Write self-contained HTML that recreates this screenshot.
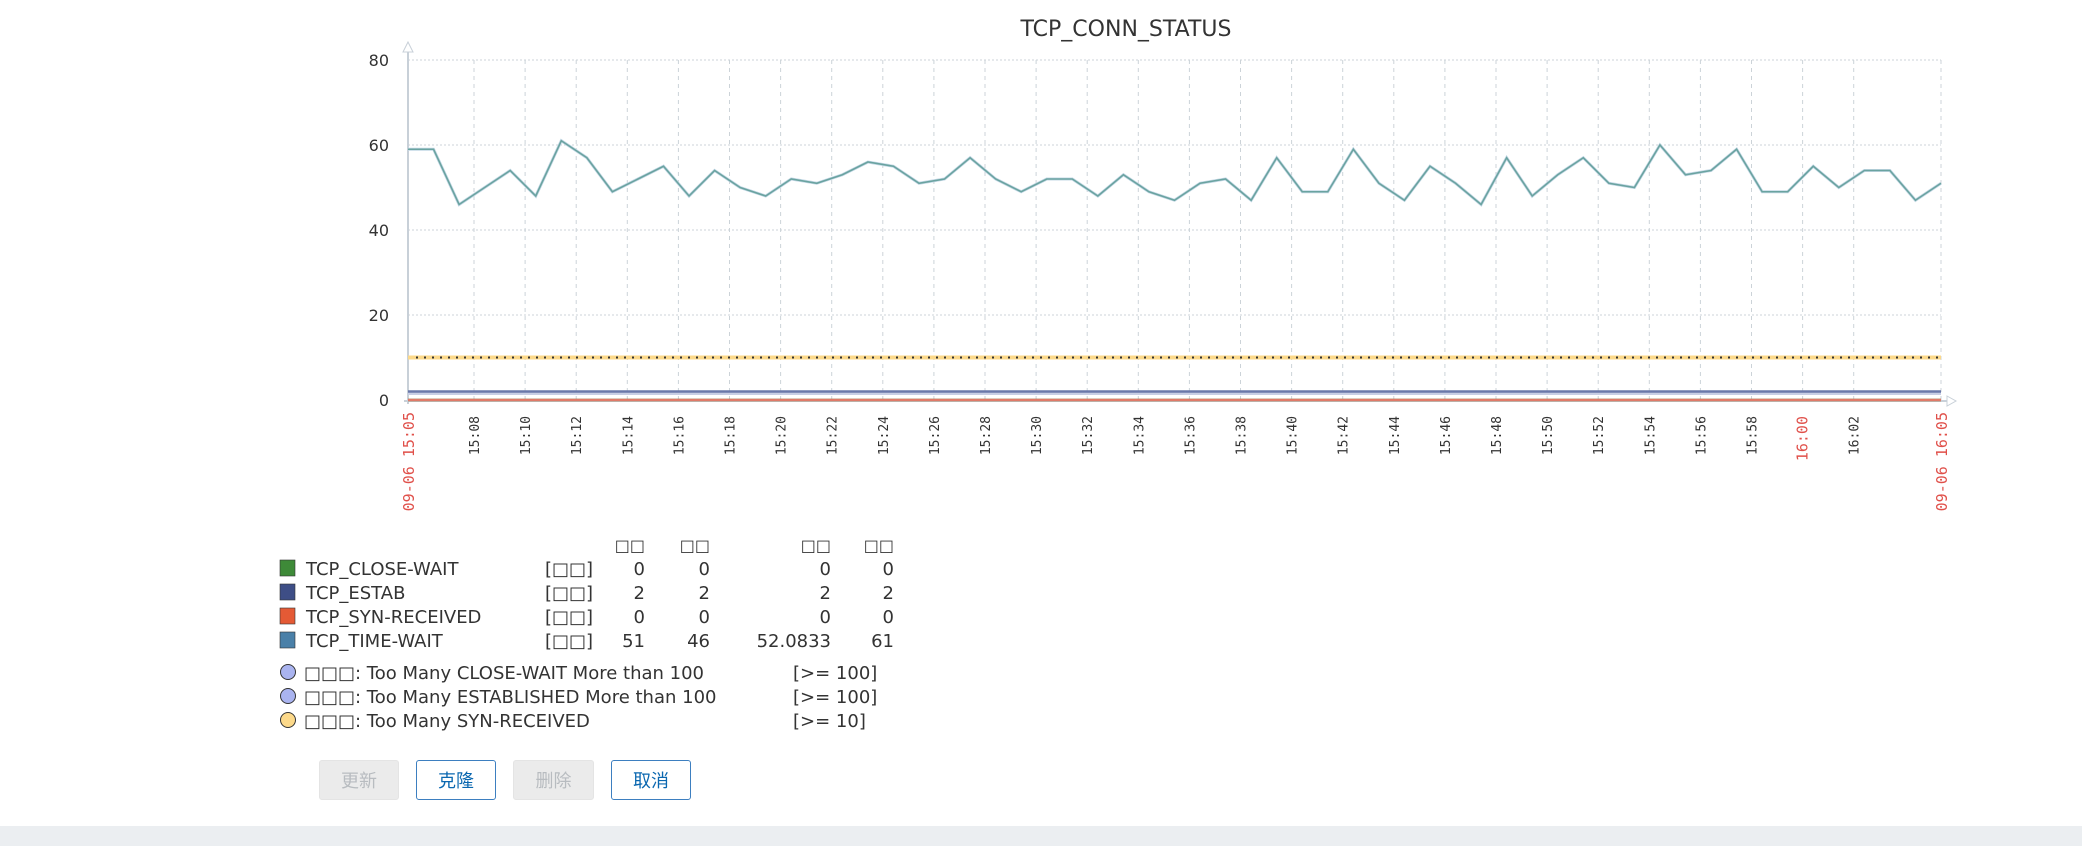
<!DOCTYPE html>
<html><head><meta charset="utf-8"><style>
html,body{margin:0;padding:0;background:#fff;width:2082px;height:846px;overflow:hidden}
svg{display:block}
.btn{position:absolute;top:760px;height:40px;box-sizing:border-box;border-radius:3px;font:18px "Liberation Sans","Noto Sans CJK SC",sans-serif;display:flex;align-items:center;justify-content:center}
.dis{background:#ebebeb;color:#b8bcc0;border:1px solid #e4e4e4}
.act{background:#fff;color:#0a67b0;border:1px solid #3d7fc0}
</style></head><body>
<div id="root" style="position:relative;width:2082px;height:846px">
<svg id="chart" width="2082" height="846" xmlns="http://www.w3.org/2000/svg"></svg>
<div class="btn dis" style="left:319px;width:80px">更新</div>
<div class="btn act" style="left:416px;width:80px">克隆</div>
<div class="btn dis" style="left:513px;width:81px">删除</div>
<div class="btn act" style="left:611px;width:80px">取消</div>
<div style="position:absolute;left:0;top:826px;width:2082px;height:20px;background:#ebeef1"></div>
</div>
<script>
const timeWait=[59,59,46,50,54,48,61,57,49,52,55,48,54,50,48,52,51,53,56,55,51,52,57,52,49,52,52,48,53,49,47,51,52,47,57,49,49,59,51,47,55,51,46,57,48,53,57,51,50,60,53,54,59,49,49,55,50,54,54,47,51];
const estab=[2,2];
const synRecv=[0,0];
const closeWait=[0,0];
const trigger=[10];
const yTicks=[0,20,40,60,80];
const xTickMinutes=[8,10,12,14,16,18,20,22,24,26,28,30,32,34,36,38,40,42,44,46,48,50,52,54,56,58,60,62];
const legendNames=["TCP_CLOSE-WAIT","TCP_ESTAB","TCP_SYN-RECEIVED","TCP_TIME-WAIT"];
const legendLast=["0","2","0","51"];
const legendMin=["0","2","0","46"];
const legendAvg=["0","2","0","52.0833"];
const legendMax=["0","2","0","61"];
const triggerNames=["Too Many CLOSE-WAIT More than 100","Too Many ESTABLISHED More than 100","Too Many SYN-RECEIVED"];
const triggerConds=["[>= 100]","[>= 100]","[>= 10]"];

const NS="http://www.w3.org/2000/svg";
const svg=document.getElementById('chart');
const X0=408,X1=1941,Y0=400,Y80=60;
const startMin=5+25/60, endMin=65+25/60;
const xs=m=>X0+(m-startMin)/(endMin-startMin)*(X1-X0);
const ys=v=>Y0-(v/80)*(Y0-Y80);
function el(t,a,p){const e=document.createElementNS(NS,t);for(const k in a)e.setAttribute(k,a[k]);(p||svg).appendChild(e);return e;}
const F='"DejaVu Sans","Liberation Sans",sans-serif';

let t=el('text',{x:1126,y:36,'text-anchor':'middle','font-size':22,fill:'#333','font-family':F});
t.textContent='TCP_CONN_STATUS';



yTicks.forEach(v=>{
  if(v>0){const g=el('line',{x1:X0,x2:X1,y1:ys(v),y2:ys(v),stroke:'#ccd3d8','stroke-dasharray':'2,2','stroke-width':1});
  }
  const l=el('text',{x:389,y:ys(v)+6,'text-anchor':'end','font-size':16,fill:'#333','font-family':F});
  l.textContent=v;
  
});
xTickMinutes.forEach(m=>{
  const x=xs(m);
  const g=el('line',{x1:x,x2:x,y1:Y80,y2:Y0,stroke:'#ccd3d8','stroke-dasharray':'4,4','stroke-width':1});
  
  const h=Math.floor(15+m/60), mm=m%60;
  const txt=(h<10?'0':'')+h+':'+(mm<10?'0':'')+mm;
  const red=(mm===0);
  const l=el('text',{x:0,y:0,transform:`translate(${x+5},416) rotate(-90)`,'text-anchor':'end','font-size':red?15:13,fill:red?'#e0504a':'#333','font-family':'"DejaVu Sans Mono",monospace'});
  l.textContent=txt;
  
});
const eg=el('line',{x1:X1,x2:X1,y1:Y80,y2:Y0,stroke:'#ccd3d8','stroke-dasharray':'4,4'});

[[X0,'09-06 15:05','x-start-label'],[X1,'09-06 16:05','x-end-label']].forEach(([x,s,n])=>{
  const l=el('text',{x:0,y:0,transform:`translate(${x+6},412) rotate(-90)`,'text-anchor':'end','font-size':15,fill:'#e0504a','font-family':'"DejaVu Sans Mono",monospace'});
  l.textContent=s;
});
let a=el('line',{x1:X0,x2:X0,y1:48,y2:Y0+4,stroke:'#c8d0d8','stroke-width':2});

a=el('path',{d:`M${X0-5},52 L${X0},42 L${X0+5},52 Z`,fill:'#fff',stroke:'#c8d0d8'});

a=el('line',{x1:X0-4,x2:X1+6,y1:Y0+1,y2:Y0+1,stroke:'#c8d0d8','stroke-width':2});

a=el('path',{d:`M${X1+6},${Y0-4} L${X1+15},${Y0+1} L${X1+6},${Y0+6} Z`,fill:'#fff',stroke:'#c8d0d8'});


let tr=el('line',{x1:X0,x2:X1,y1:ys(trigger[0]),y2:ys(trigger[0]),stroke:'#fcd98a','stroke-width':4});

tr=el('line',{x1:X0+8,x2:X1,y1:ys(trigger[0]),y2:ys(trigger[0]),stroke:'#333','stroke-width':2,'stroke-dasharray':'2,6'});


function flat(arr,color,name,band){
  const y=ys(arr[0]);
  if(band){const b=el('line',{x1:X0,x2:X1,y1:y+2,y2:y+2,stroke:band,'stroke-width':3});}
  const l=el('line',{x1:X0,x2:X1,y1:y,y2:y,stroke:color,'stroke-width':2.5});
  
}
flat(estab,'#6a78aa','series-tcp-estab','#c8cee4');
flat(closeWait,'#3a7a30','series-tcp-close-wait');
flat(synRecv,'#e07a68','series-tcp-syn-received');

const pts=timeWait.map((v,i)=>`${xs(startMin+i)},${ys(v)}`).join(' ');
let p=el('polyline',{points:pts,fill:'none',stroke:'#c4d8e6','stroke-width':3});

p=el('polyline',{points:pts,fill:'none',stroke:'#6aa3a0','stroke-width':1.6});


const LF='"DejaVu Sans","Liberation Sans",sans-serif';
const colors=['#3e8a38','#3e4e86','#e45a35','#4a80a8'];
const hdrX=[645,710,831,894];
hdrX.forEach(x=>{const h=el('text',{x:x,y:551,'text-anchor':'end','font-size':16,fill:'#333','font-family':LF});h.textContent='□□';});
legendNames.forEach((n,i)=>{
  const y=568+i*24;
  const r=el('rect',{x:280,y:y-8,width:15,height:16,fill:colors[i],stroke:'#333','stroke-width':0.6});
  
  const tx=el('text',{x:306,y:y+7,'font-size':18,fill:'#333','font-family':LF});tx.textContent=n;
  
  const f=el('text',{x:545,y:y+7,'font-size':18,fill:'#333','font-family':LF});f.textContent='[□□]';
  
  [legendLast,legendMin,legendAvg,legendMax].forEach((arr,j)=>{
    const v=el('text',{x:hdrX[j],y:y+7,'text-anchor':'end','font-size':18,fill:'#333','font-family':LF});v.textContent=arr[i];
    
  });
});
const tcol=['#aab4f0','#aab4f0','#fcd98a'];
triggerNames.forEach((n,i)=>{
  const y=672+i*24;
  const c=el('circle',{cx:288,cy:y,r:7.5,fill:tcol[i],stroke:'#333','stroke-width':1});
  
  const tx=el('text',{x:304,y:y+7,'font-size':18,fill:'#333','font-family':LF});tx.textContent='□□□: '+n;
  
  const cd=el('text',{x:793,y:y+7,'font-size':18,fill:'#333','font-family':LF});cd.textContent=triggerConds[i];
  
});
</script>
</body></html>
